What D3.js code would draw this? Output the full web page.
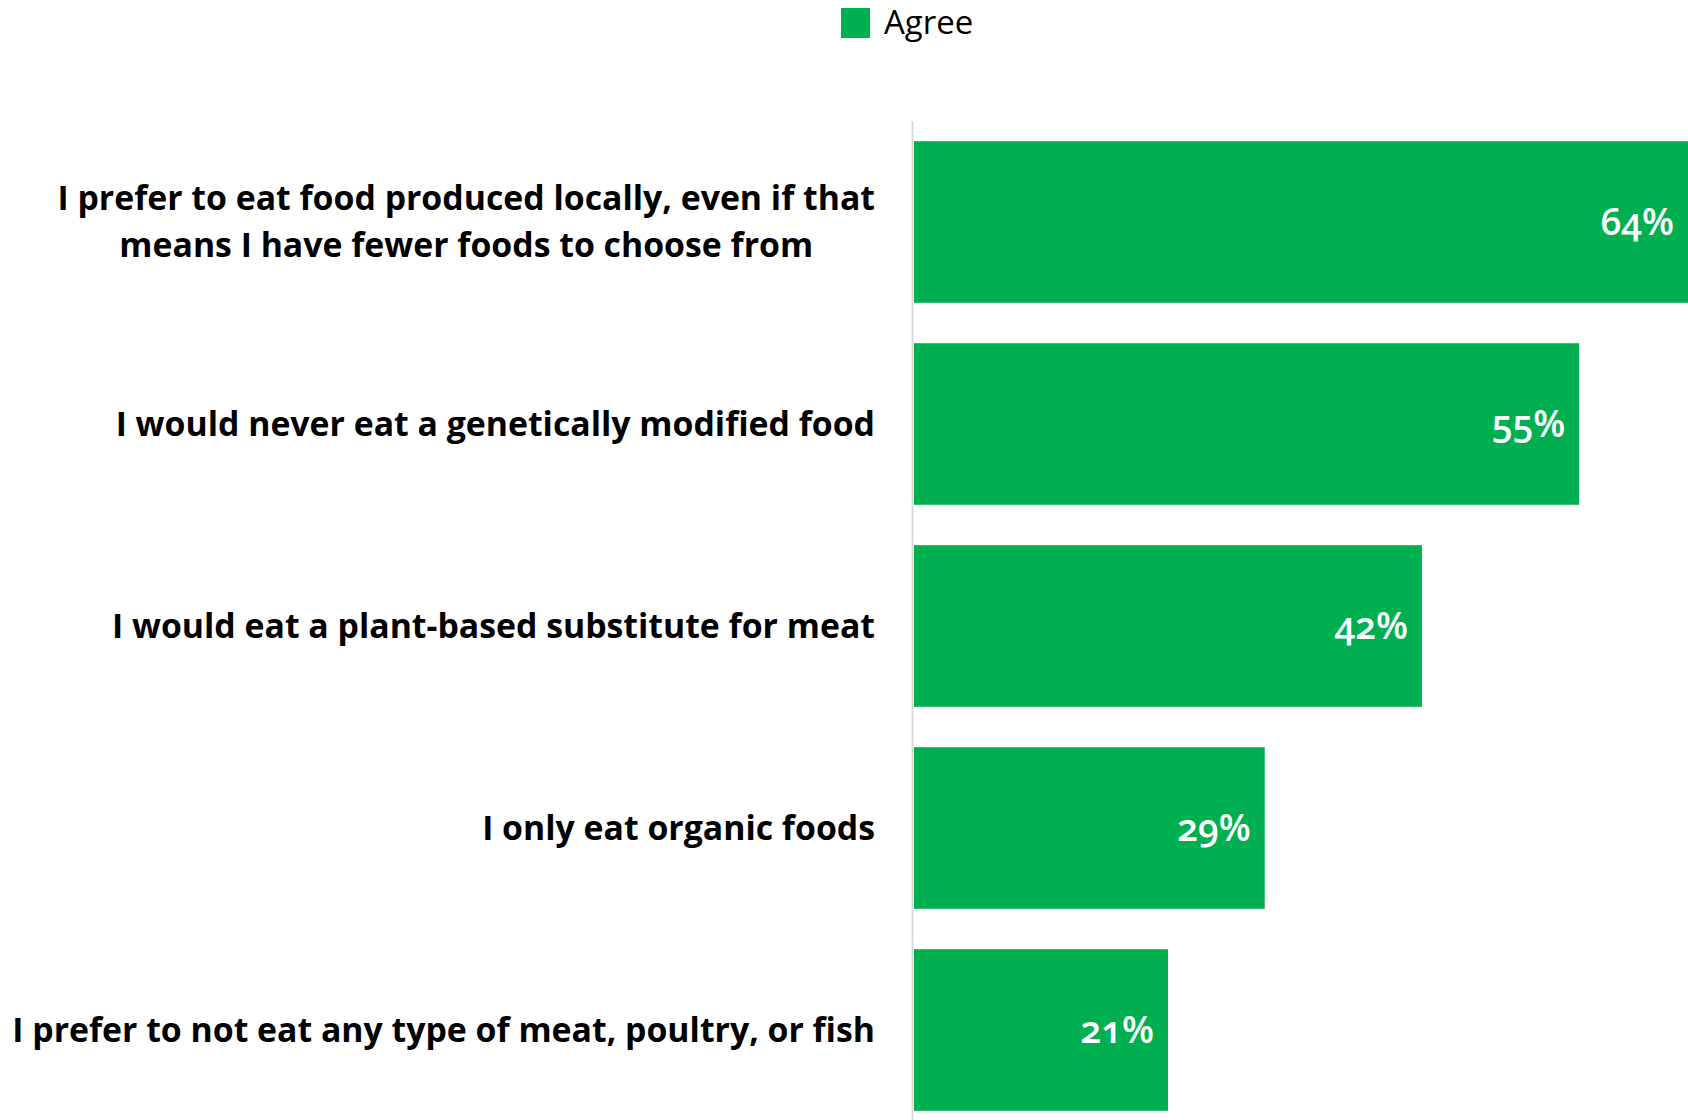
<!DOCTYPE html>
<html>
<head>
<meta charset="utf-8">
<script src="https://cdn.jsdelivr.net/npm/d3@7"></script>
<style>
  html, body { margin: 0; padding: 0; background: #fff; }
  svg { display: block; }
  .cat { font-family: "Open Sans", sans-serif; font-weight: 700; fill: #000; }
  .val { font-family: "Open Sans", sans-serif; font-weight: 600; fill: #fff; font-variant-numeric: oldstyle-nums; font-feature-settings: "onum" 1; }
  .leg { font-family: "Open Sans", sans-serif; font-weight: 400; fill: #000; }
</style>
</head>
<body>
<script>
// Survey statements (line breaks marked with \n) and share who agree
const categories = [
  "I prefer to eat food produced locally, even if that\nmeans I have fewer foods to choose from",
  "I would never eat a genetically modified food",
  "I would eat a plant-based substitute for meat",
  "I only eat organic foods",
  "I prefer to not eat any type of meat, poultry, or fish"
];
const agreeValues = [64, 55, 42, 29, 21];
const seriesName = "Agree";

const W = 1688, H = 1120;
const green = "#00B050";

const svg = d3.select("body").append("svg")
  .attr("width", W).attr("height", H);

const x = d3.scaleLinear().domain([0, 64]).range([914, 1688]);
const y = d3.scaleBand().domain(categories).range([121, 1131]).paddingInner(0.2).paddingOuter(0.1);

// vertical baseline
svg.append("line")
  .attr("x1", 912.5).attr("x2", 912.5)
  .attr("y1", 121).attr("y2", H)
  .attr("stroke", "#d9d9d9").attr("stroke-width", 2);

// bars
svg.selectAll("rect.bar").data(agreeValues).join("rect")
  .attr("class", "bar")
  .attr("x", x(0))
  .attr("y", (d, i) => y(categories[i]))
  .attr("width", d => x(d) - x(0))
  .attr("height", y.bandwidth())
  .attr("fill", green);

// value labels inside bar ends
svg.selectAll("text.val").data(agreeValues).join("text")
  .attr("class", "val")
  .attr("x", d => x(d) - 14)
  .attr("y", (d, i) => y(categories[i]) + y.bandwidth() / 2)
  .attr("dy", "0.35em")
  .attr("text-anchor", "end")
  .attr("font-size", 37)
  .text(d => d + "%");

// category labels, right aligned against the axis
const lineH = 47;
const cat = svg.selectAll("text.cat").data(categories).join("text")
  .attr("class", "cat")
  .attr("font-size", 33.8)
  .attr("text-anchor", "middle")
  .attr("transform", (d, i) => `translate(0, ${y(d) + y.bandwidth() / 2})`);

cat.each(function(d) {
  const lines = d.split("\n");
  const t = d3.select(this);
  const n = lines.length;
  lines.forEach((ln, j) => {
    t.append("tspan").text(ln)
      .attr("y", (j - (n - 1) / 2) * lineH)
      .attr("dy", "0.35em");
  });
  // center multi-line labels on their widest line, right edge at 875
  const widths = [];
  t.selectAll("tspan").each(function() { widths.push(this.getComputedTextLength()); });
  const maxW = d3.max(widths);
  t.selectAll("tspan").attr("x", 875 - maxW / 2);
});

// legend
const leg = svg.append("g");
leg.append("rect").attr("x", 841).attr("y", 8).attr("width", 29).attr("height", 30).attr("fill", green);
leg.append("text").attr("class", "leg").attr("x", 884).attr("y", 22).attr("dy", "0.35em")
  .attr("font-size", 33).text(seriesName);
</script>
</body>
</html>
